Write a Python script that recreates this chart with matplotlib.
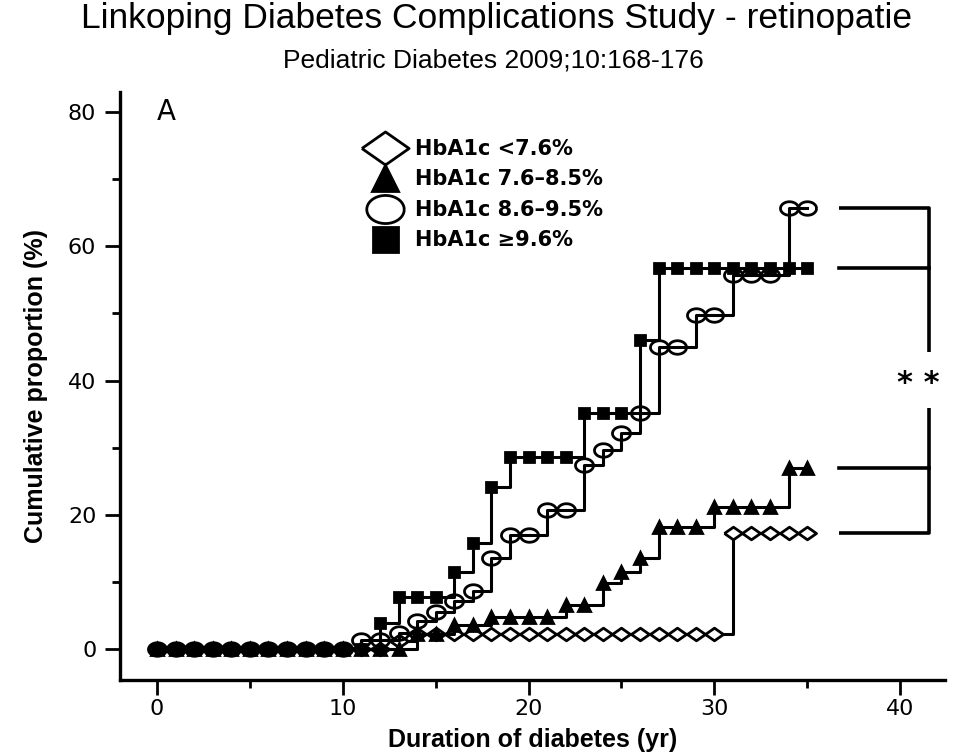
import matplotlib

matplotlib.use("Agg")
import matplotlib.pyplot as plt
import numpy as np
from matplotlib.lines import Line2D

# %% Data

years = np.arange(0, 36)

# HbA1c < 7.6 %
low = [0] * 13 + [1.2] + [2.3] * 17 + [17.3] * 5
# HbA1c 7.6-8.5 %
mid = (
    [0] * 14 + [2.3] * 2 + [3.6] * 2 + [4.8] * 4 + [6.6] * 2
    + [9.8, 11.5, 13.5] + [18.2] * 3 + [21.2] * 4 + [27.0] * 2
)
# HbA1c 8.6-9.5 %
high = (
    [0] * 11 + [1.3, 1.3, 2.4, 4.2, 5.6, 7.1, 8.7, 13.5, 17.0, 17.0, 20.7, 20.7,
                27.4, 29.6, 32.2, 35.1, 45.0, 45.0, 49.8, 49.8]
    + [55.7] * 3 + [65.7] * 2
)
# HbA1c >= 9.6 %
vhigh = (
    [0] * 12 + [3.9] + [7.7] * 3 + [11.5, 15.8, 24.2] + [28.6] * 4
    + [35.1] * 3 + [46.0] + [56.8] * 9
)

labels = ["HbA1c <7.6%", "HbA1c 7.6\u20138.5%", "HbA1c 8.6\u20139.5%", "HbA1c \u22659.6%"]

x_ticks = [0, 10, 20, 30, 40]
y_ticks = [0, 20, 40, 60, 80]

# %% Markers

diamond = [(-1, 0), (0, 0.7), (1, 0), (0, -0.7), (-1, 0)]
t = np.linspace(0, 2 * np.pi, 40)
oval = list(zip(np.cos(t), 0.75 * np.sin(t)))

styles = [
    dict(marker=diamond, ms=13, mfc="white"),
    dict(marker=oval, ms=13, mfc="none"),
    dict(marker="^", ms=8.5, mfc="black"),
    dict(marker="s", ms=7.5, mfc="black"),
]
series = [low, high, mid, vhigh]

# %% Plot

fig = plt.figure(figsize=(9.59, 7.52), dpi=100)
ax = fig.add_axes([0.125, 0.0957, 0.86, 0.7823])

for y, st in zip(series, styles):
    ax.plot(
        years,
        y,
        drawstyle="steps-post",
        color="black",
        lw=2.2,
        mec="black",
        mew=2,
        clip_on=False,
        **st,
    )

ax.set_xlim(-2, 42.4)
ax.set_ylim(-4.6, 83)
ax.set_xticks(x_ticks)
ax.set_xticks([5, 15, 25, 35], minor=True)
ax.set_yticks(y_ticks)
ax.set_yticks([10, 30, 50, 70], minor=True)

ax.spines[["top", "right"]].set_visible(False)
for s in ["left", "bottom"]:
    ax.spines[s].set_linewidth(2.4)
ax.tick_params(which="major", length=11, width=2, labelsize=16)
ax.tick_params(axis="x", which="major", pad=3)
ax.tick_params(axis="y", which="major", pad=6)
ax.tick_params(which="minor", length=6, width=2)

ax.set_xlabel(
    "Duration of diabetes (yr)",
    family=["Liberation Sans", "DejaVu Sans"],
    fontweight="bold",
    fontsize=18,
    labelpad=6,
)
ax.set_ylabel(
    "Cumulative proportion (%)",
    family=["Liberation Sans Narrow", "Liberation Sans", "DejaVu Sans"],
    fontweight="bold",
    fontsize=18,
    labelpad=14,
)

ax.text(0, 80, "A", fontsize=20, ha="left", va="center")

# significance brackets
bx0, bx1 = 36.7, 41.55
ax.plot([bx0, bx1, bx1], [high[-1], high[-1], 44.3], color="k", lw=2.6, clip_on=False,
        solid_capstyle="butt")
ax.plot([bx0, bx1], [vhigh[-1], vhigh[-1]], color="k", lw=2.6, clip_on=False)
ax.plot([bx1, bx1, bx0], [35.9, low[-1], low[-1]], color="k", lw=2.6, clip_on=False,
        solid_capstyle="butt")
ax.plot([bx0, bx1], [mid[-1], mid[-1]], color="k", lw=2.6, clip_on=False)
ax.text(41.0, 39.5, "* *", fontsize=22, fontweight="bold", ha="center", va="center")

# legend
leg_styles = [
    dict(marker=diamond, ms=34, mfc="white"),
    dict(marker="^", ms=19, mfc="black"),
    dict(marker=oval, ms=27, mfc="none"),
    dict(marker="s", ms=18, mfc="black"),
]
handles = [
    Line2D([], [], ls="none", mec="black", mew=2, color="black", **st)
    for st in leg_styles
]
ax.legend(
    handles,
    labels,
    loc="upper left",
    bbox_to_anchor=(364 / 959, 1 - 139 / 752),
    bbox_transform=fig.transFigure,
    frameon=False,
    prop=dict(weight="bold", size=15),
    handlelength=2,
    handletextpad=0.45,
    labelspacing=0.5,
    borderpad=0,
    borderaxespad=0,
)

fig.text(0.518, 0.975, "Linkoping Diabetes Complications Study - retinopatie",
         family=["Liberation Sans Narrow", "Liberation Sans"], fontsize=25.5,
         ha="center", va="center")
fig.text(0.514, 0.92, "Pediatric Diabetes 2009;10:168-176",
         family=["Liberation Sans Narrow", "Liberation Sans"], fontsize=19,
         ha="center", va="center")

fig.savefig("out.png", dpi=100)
